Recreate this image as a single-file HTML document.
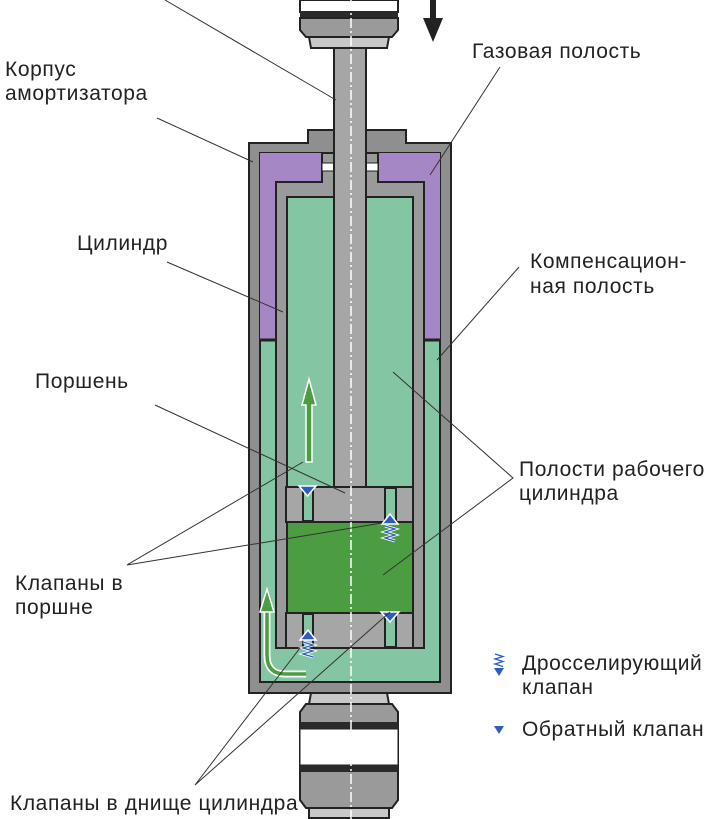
<!DOCTYPE html>
<html><head><meta charset="utf-8"><style>
html,body{margin:0;padding:0;background:#fff}
svg{display:block}
text{font-family:"Liberation Sans",sans-serif;font-size:21px;letter-spacing:0.6px;fill:#222}
</style></head><body>
<svg width="720" height="819" viewBox="0 0 720 819" xmlns="http://www.w3.org/2000/svg">
<!-- top mount -->
<rect x="300" y="0" width="98" height="12" fill="#fff" stroke="#222" stroke-width="2"/>
<rect x="300" y="11" width="98" height="7" fill="#2a2a2a"/>
<path d="M300 18 H398 V30 L392 37 H306 L300 30 Z" fill="#9a9a9a" stroke="#222" stroke-width="2"/>
<path d="M309 37 H389 L387 48 H311 Z" fill="#c8c8c8" stroke="#222" stroke-width="2"/>
<!-- down arrow -->
<rect x="430" y="0" width="6" height="22" fill="#222"/>
<path d="M423 18 H443 L433 42 Z" fill="#222"/>
<!-- body outer -->
<path d="M249 143 H308 V130 H406 V143 H451 V693 H249 Z" fill="#8f8f8f" stroke="#222" stroke-width="2"/>
<!-- compensation green + purple -->
<rect x="260" y="153" width="180" height="529" fill="#84c5a3" stroke="#222" stroke-width="2"/>
<path d="M260 153 H322 V182 H276 V340 H260 Z" fill="#a587c6"/>
<path d="M440 153 H378 V182 H424 V340 H440 Z" fill="#a587c6"/>
<line x1="260" y1="340" x2="276" y2="340" stroke="#222" stroke-width="3"/>
<line x1="424" y1="340" x2="440" y2="340" stroke="#222" stroke-width="3"/>
<!-- gray top block around rod -->
<path d="M322 153 H378 V182 H424 V648 H276 V182 H322 Z" fill="#9a9a9a" stroke="#222" stroke-width="2"/>
<rect x="322" y="163" width="12" height="8" fill="#fff" stroke="#222" stroke-width="1"/>
<rect x="366" y="163" width="12" height="8" fill="#fff" stroke="#222" stroke-width="1"/>
<!-- working chamber -->
<rect x="287" y="197" width="126" height="441" fill="#84c5a3" stroke="#222" stroke-width="2"/>
<!-- rod -->
<rect x="334" y="48" width="32" height="441" fill="#a6a6a6" stroke="#222" stroke-width="2"/>
<!-- piston -->
<rect x="286" y="487" width="127" height="35" fill="#a6a6a6" stroke="#222" stroke-width="2"/>
<rect x="303" y="488" width="10" height="33" fill="#84c5a3" stroke="#222" stroke-width="2"/>
<rect x="385" y="488" width="11" height="33" fill="#84c5a3" stroke="#222" stroke-width="2"/>
<!-- dark green lower chamber -->
<rect x="287" y="522" width="126" height="91" fill="#4c9c42" stroke="#222" stroke-width="2"/>
<!-- bottom valve body -->
<rect x="286" y="613" width="127" height="35" fill="#a6a6a6" stroke="#222" stroke-width="2"/>
<rect x="303" y="614" width="10" height="33" fill="#84c5a3" stroke="#222" stroke-width="2"/>
<rect x="385" y="614" width="11" height="33" fill="#84c5a3" stroke="#222" stroke-width="2"/>
<!-- valves -->
<g fill="#2f5cbf" stroke="#fff" stroke-width="1.5">
<path d="M299 486 H316 L307.5 496 Z"/>
<path d="M381 612 H399 L390 622 Z"/>
<path d="M382 524 H398 L390 514 Z"/>
<path d="M300 640 H316 L308 630 Z"/>
</g>
<g fill="none" stroke="#fff" stroke-width="3"><path d="M385 526 l10 3 l-10 3 l10 3 l-10 3 l10 3"/><path d="M303 642 l10 3 l-10 3 l10 3 l-10 3 l10 3"/></g>
<g fill="none" stroke="#2f5cbf" stroke-width="1.3"><path d="M385 526 l10 3 l-10 3 l10 3 l-10 3 l10 3"/><path d="M303 642 l10 3 l-10 3 l10 3 l-10 3 l10 3"/></g>
<!-- up arrow -->
<path d="M306 462 V405 H302 L309 379 L316 405 H312 V462 Z" fill="#4c9c42" stroke="#fff" stroke-width="1.5"/>
<!-- curved arrow -->
<path d="M306 674 H285 Q267 674 267 655 V608" fill="none" stroke="#fff" stroke-width="7"/>
<path d="M306 674 H285 Q267 674 267 655 V608" fill="none" stroke="#4c9c42" stroke-width="3.5"/>
<path d="M260 612 L267 589 L274 612 Z" fill="#4c9c42" stroke="#fff" stroke-width="1.5"/>
<!-- bottom mount -->
<path d="M311 693 H387 L389 704 H309 Z" fill="#c8c8c8" stroke="#222" stroke-width="2"/>
<path d="M306 704 H392 L398 712 V800 L392 808 H306 L300 800 V712 Z" fill="#9a9a9a" stroke="#222" stroke-width="2"/>
<rect x="300" y="722" width="98" height="7" fill="#2a2a2a"/>
<rect x="300" y="729" width="98" height="36" fill="#fff" stroke="#222" stroke-width="1"/>
<rect x="300" y="765" width="98" height="7" fill="#2a2a2a"/>
<path d="M309 808 H389 V818 H309 Z" fill="#c8c8c8" stroke="#222" stroke-width="2"/>
<!-- centerline -->
<line x1="351" y1="0" x2="351" y2="819" stroke="#fff" stroke-width="1.5" stroke-dasharray="10 3 2 3"/>
<!-- leader lines -->
<g stroke="#333" stroke-width="1" fill="none">
<line x1="165" y1="0" x2="336" y2="100"/>
<line x1="157" y1="118" x2="253" y2="162"/>
<line x1="500" y1="67" x2="430" y2="175"/>
<line x1="167" y1="262" x2="283" y2="312"/>
<line x1="519" y1="267" x2="437" y2="360"/>
<line x1="155" y1="405" x2="345" y2="493"/>
<polyline points="393,372 513,478 383,575"/>
<polyline points="303,462 127,565 382,523"/>
<polyline points="300,648 195,785 390,612"/>
</g>
<!-- labels -->
<text x="5" y="76">Корпус</text>
<text x="5" y="100">амортизатора</text>
<text x="472" y="58">Газовая полость</text>
<text x="77" y="250">Цилиндр</text>
<text x="530" y="268">Компенсацион-</text>
<text x="530" y="293">ная полость</text>
<text x="35" y="388">Поршень</text>
<text x="519" y="476">Полости рабочего</text>
<text x="519" y="500">цилиндра</text>
<text x="15" y="590">Клапаны в</text>
<text x="15" y="614">поршне</text>
<text x="522" y="670">Дросселирующий</text>
<text x="522" y="694">клапан</text>
<text x="522" y="736">Обратный клапан</text>
<text x="10" y="810">Клапаны в днище цилиндра</text>
<!-- legend icons -->
<path d="M495 654 l8 2.5 l-8 2.5 l8 2.5 l-8 2.5 l8 2.5" fill="none" stroke="#2f5cbf" stroke-width="1.3"/>
<path d="M494 668 H504 L499 676 Z" fill="#2f5cbf"/>
<path d="M494 726 H504 L499 734 Z" fill="#2f5cbf"/>
</svg>
</body></html>
